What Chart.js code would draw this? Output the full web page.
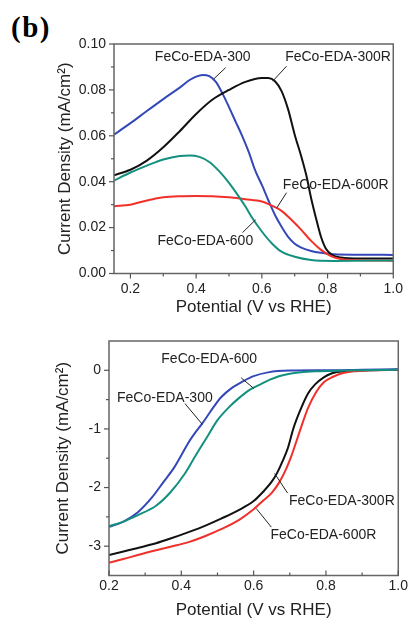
<!DOCTYPE html>
<html><head><meta charset="utf-8">
<script src="https://cdn.jsdelivr.net/npm/chart.js@4"></script>
<style>
html,body{margin:0;padding:0;background:#fff;width:410px;height:624px;overflow:hidden;}
#c1{position:absolute;left:0;top:0;}
#c2{position:absolute;left:0;top:322px;}
#lbl{position:absolute;left:11px;top:13px;font:bold 29px "Liberation Serif",serif;letter-spacing:1.5px;line-height:29px;color:#000;}
</style></head><body>
<div id="lbl">(b)</div>
<canvas id="c1" width="410" height="322"></canvas>
<canvas id="c2" width="410" height="302"></canvas>
<script>
// ---------- DATA : top panel ----------
const topNames = ['FeCo-EDA-300', 'FeCo-EDA-300R', 'FeCo-EDA-600', 'FeCo-EDA-600R'];
const topX_300  = [0.15,0.20,0.25,0.30,0.35,0.38,0.40,0.42,0.44,0.46,0.48,0.50,0.52,0.54,0.56,0.58,0.60,0.62,0.64,0.66,0.68,0.70,0.72,0.75,0.78,0.82,0.90,1.00];
const topY_300  = [0.0605,0.0655,0.0708,0.0760,0.0810,0.0843,0.0858,0.0865,0.0860,0.0835,0.0785,0.0725,0.0662,0.0600,0.0530,0.0448,0.0386,0.0318,0.0255,0.0204,0.0160,0.0130,0.0113,0.0098,0.0090,0.0084,0.0082,0.0081];
const topX_300R = [0.15,0.20,0.25,0.30,0.35,0.40,0.45,0.50,0.55,0.60,0.62,0.64,0.66,0.68,0.70,0.72,0.735,0.75,0.765,0.78,0.795,0.815,0.84,0.90,1.00];
const topY_300R = [0.0428,0.0452,0.0492,0.0550,0.0620,0.0695,0.0758,0.0800,0.0835,0.0852,0.0852,0.0838,0.0795,0.0715,0.0605,0.0510,0.0430,0.0328,0.0240,0.0160,0.0108,0.0080,0.0070,0.0065,0.0065];
const topX_600  = [0.15,0.20,0.25,0.30,0.35,0.38,0.41,0.44,0.47,0.50,0.53,0.55,0.57,0.60,0.63,0.66,0.70,0.75,0.82,1.00];
const topY_600  = [0.0405,0.0440,0.0470,0.0497,0.0512,0.0514,0.0508,0.0486,0.0446,0.0395,0.0335,0.0292,0.0244,0.0183,0.0132,0.0095,0.0073,0.0059,0.0055,0.0057];
const topX_600R = [0.15,0.20,0.25,0.30,0.35,0.40,0.45,0.50,0.55,0.60,0.63,0.66,0.69,0.72,0.75,0.78,0.81,0.84,0.90,1.00];
const topY_600R = [0.0293,0.0300,0.0318,0.0332,0.0337,0.0338,0.0337,0.0332,0.0324,0.0314,0.0296,0.0273,0.0234,0.0190,0.0142,0.0103,0.0076,0.0063,0.0058,0.0056];
const topXTicks = [0.2,0.4,0.6,0.8,1.0];
const topXMinor = [0.3,0.5,0.7,0.9];
const topYTicks = [0.00,0.02,0.04,0.06,0.08,0.10];
const topYMinor = [0.01,0.03,0.05,0.07,0.09];

// ---------- DATA : bottom panel ----------
const botX_300  = [0.20,0.24,0.28,0.32,0.35,0.38,0.40,0.42,0.44,0.455,0.47,0.49,0.51,0.54,0.57,0.60,0.64,0.70,0.80,0.90,1.00];
const botY_300  = [-2.67,-2.58,-2.42,-2.16,-1.91,-1.66,-1.45,-1.23,-1.05,-0.93,-0.80,-0.62,-0.46,-0.30,-0.19,-0.10,-0.035,-0.005,0.0,0.01,0.02];
const botX_600  = [0.20,0.24,0.28,0.33,0.37,0.41,0.44,0.47,0.50,0.53,0.56,0.59,0.62,0.645,0.67,0.70,0.73,0.77,0.85,1.00];
const botY_600  = [-2.66,-2.58,-2.47,-2.31,-2.08,-1.76,-1.45,-1.15,-0.85,-0.64,-0.47,-0.33,-0.235,-0.16,-0.10,-0.057,-0.033,-0.017,-0.005,0.01];
const botX_300R = [0.20,0.24,0.28,0.33,0.37,0.42,0.47,0.51,0.56,0.60,0.625,0.65,0.665,0.68,0.695,0.71,0.727,0.75,0.77,0.795,0.815,0.83,0.86,1.00];
const botY_300R = [-3.15,-3.09,-3.03,-2.95,-2.87,-2.76,-2.64,-2.53,-2.38,-2.23,-2.08,-1.90,-1.75,-1.55,-1.32,-0.99,-0.71,-0.40,-0.24,-0.115,-0.055,-0.03,-0.01,0.01];
const botX_600R = [0.20,0.24,0.28,0.33,0.37,0.42,0.465,0.51,0.56,0.60,0.625,0.65,0.67,0.69,0.705,0.727,0.75,0.773,0.795,0.82,0.847,0.875,0.92,1.00];
const botY_600R = [-3.28,-3.22,-3.15,-3.07,-3.01,-2.93,-2.83,-2.71,-2.55,-2.37,-2.23,-2.09,-1.92,-1.68,-1.45,-1.05,-0.65,-0.37,-0.20,-0.11,-0.045,-0.017,0.0,0.01];
const botXTicks = [0.2,0.4,0.6,0.8,1.0];
const botXMinor = [0.3,0.5,0.7,0.9];
const botYTicks = [-3,-2,-1,0];
const botYMinor = [-2.5,-1.5,-0.5];

// ---------- styling ----------
const FONT = '"Liberation Sans", Arial, sans-serif';
const COL = {'FeCo-EDA-300':'#3548b9','FeCo-EDA-300R':'#111111','FeCo-EDA-600':'#14907f','FeCo-EDA-600R':'#f0302a'};

// label annotations (data coordinates: text centre, leader start, leader end)
const topNotes = [
  {t:'FeCo-EDA-300',  at:[0.420,0.0941], l:[0.490,0.0897,0.4545,0.0849]},
  {t:'FeCo-EDA-300R', at:[0.832,0.0941], l:[0.675,0.0903,0.633,0.0838]},
  {t:'FeCo-EDA-600R', at:[0.825,0.0386], l:[0.675,0.0352,0.6455,0.0286]},
  {t:'FeCo-EDA-600',  at:[0.428,0.0142], l:[0.541,0.0178,0.581,0.0234]}
];
const botNotes = [
  {t:'FeCo-EDA-600',  at:[0.477,0.187],  l:[0.5655,-0.128,0.600,-0.307]},
  {t:'FeCo-EDA-300',  at:[0.3545,-0.468],l:[0.41,-0.567,0.4585,-0.925]},
  {t:'FeCo-EDA-300R', at:[0.844,-2.232], l:[0.694,-2.095,0.658,-1.76]},
  {t:'FeCo-EDA-600R', at:[0.793,-2.81],  l:[0.649,-2.675,0.607,-2.356]}
];

function framePlugin(spec){
  return {
    id:'frame'+spec.id,
    afterDatasetsDraw(chart){
      const {ctx, chartArea:a, scales:{x,y}} = chart;
      ctx.save();
      ctx.strokeStyle = '#666'; ctx.lineWidth = 1.5;
      ctx.strokeRect(a.left, a.top, a.right-a.left, a.bottom-a.top);
      ctx.lineWidth = 1.2; ctx.strokeStyle = '#555';
      const seg=(x1,y1,x2,y2)=>{ctx.beginPath();ctx.moveTo(x1,y1);ctx.lineTo(x2,y2);ctx.stroke();};
      const xd = spec.xTickDir;
      spec.xMajor.forEach(v=>{const p=x.getPixelForValue(v); seg(p,a.bottom,p,a.bottom+xd*5);});
      spec.xMinor.forEach(v=>{const p=x.getPixelForValue(v); seg(p,a.bottom,p,a.bottom+xd*3);});
      spec.yMajor.forEach(v=>{const p=y.getPixelForValue(v); seg(a.left,p,a.left-5,p);});
      spec.yMinor.forEach(v=>{const p=y.getPixelForValue(v); seg(a.left,p,a.left-3,p);});
      ctx.font = '14px ' + FONT; ctx.fillStyle = '#222';
      ctx.textAlign = 'center'; ctx.textBaseline = 'middle';
      ctx.strokeStyle = '#222'; ctx.lineWidth = 1;
      spec.notes.forEach(n=>{
        ctx.fillText(n.t, x.getPixelForValue(n.at[0]), y.getPixelForValue(n.at[1]));
        seg(x.getPixelForValue(n.l[0]), y.getPixelForValue(n.l[1]), x.getPixelForValue(n.l[2]), y.getPixelForValue(n.l[3]));
      });
      ctx.restore();
    }
  };
}

function build(spec){
  const el = document.getElementById(spec.canvas);
  const H = el.height, A = spec.area;
  new Chart(el, {
    type:'scatter',
    data:{datasets: spec.series.map(s=>({
      label:s.name,
      data:s.xs.map((v,i)=>({x:v,y:s.ys[i]})),
      showLine:true, borderColor:COL[s.name], backgroundColor:COL[s.name],
      borderWidth:2, pointRadius:0, cubicInterpolationMode:'monotone', fill:false
    }))},
    options:{
      responsive:false, animation:false, events:[],
      layout:{padding:{left:spec.yTitleLeft, right:410-A.right, top:A.top, bottom:H-spec.xAxisBottom}},
      plugins:{legend:{display:false}, tooltip:{enabled:false}},
      scales:{
        x:{type:'linear', min:spec.xMin, max:spec.xMax,
           grid:{display:false, drawTicks:false}, border:{display:false},
           afterBuildTicks:s=>{s.ticks = spec.xMajor.map(v=>({value:v}));},
           afterFit:s=>{s.height = spec.xAxisBottom - A.bottom;},
           ticks:{padding:spec.xLabelPad, color:'#222', font:{family:FONT,size:14}, maxRotation:0, autoSkip:false,
                  callback:v=>Number(v).toFixed(1)},
           title:{display:true, text:'Potential (V vs RHE)', color:'#222', font:{family:FONT,size:17}, padding:{top:0,bottom:0}}
        },
        y:{type:'linear', min:spec.yMin, max:spec.yMax,
           grid:{display:false, drawTicks:false}, border:{display:false},
           afterBuildTicks:s=>{s.ticks = spec.yMajor.map(v=>({value:v}));},
           afterFit:s=>{s.width = A.left - spec.yTitleLeft;},
           ticks:{padding:8, color:'#222', font:{family:FONT,size:14}, autoSkip:false,
                  callback:v=>spec.yFmt(Number(v))},
           title:{display:true, text:'Current Density (mA/cm²)', color:'#222', font:{family:FONT,size:17}, padding:{top:0,bottom:0}}
        }
      }
    },
    plugins:[framePlugin(spec)]
  });
}

build({
  id:1, canvas:'c1',
  area:{left:114, right:398.5, top:44, bottom:273.5},
  yTitleLeft:55, xAxisBottom:318, xLabelPad:7,
  xMin:0.15, xMax:1.0, yMin:0, yMax:0.10,
  xMajor:topXTicks, xMinor:topXMinor, yMajor:topYTicks, yMinor:topYMinor, xTickDir:1,
  yFmt:v=>v.toFixed(2),
  notes:topNotes,
  series:[
    {name:topNames[2], xs:topX_600,  ys:topY_600},
    {name:topNames[3], xs:topX_600R, ys:topY_600R},
    {name:topNames[1], xs:topX_300R, ys:topY_300R},
    {name:topNames[0], xs:topX_300,  ys:topY_300}
  ]
});

build({
  id:2, canvas:'c2',
  area:{left:109, right:398.5, top:19, bottom:253.5},
  yTitleLeft:53, xAxisBottom:299, xLabelPad:2,
  xMin:0.2, xMax:1.0, yMin:-3.5, yMax:0.5,
  xMajor:botXTicks, xMinor:botXMinor, yMajor:botYTicks, yMinor:botYMinor, xTickDir:-1,
  yFmt:v=>String(Math.round(v)),
  notes:botNotes,
  series:[
    {name:topNames[2], xs:botX_600,  ys:botY_600},
    {name:topNames[0], xs:botX_300,  ys:botY_300},
    {name:topNames[3], xs:botX_600R, ys:botY_600R},
    {name:topNames[1], xs:botX_300R, ys:botY_300R}
  ]
});
</script>
</body></html>
